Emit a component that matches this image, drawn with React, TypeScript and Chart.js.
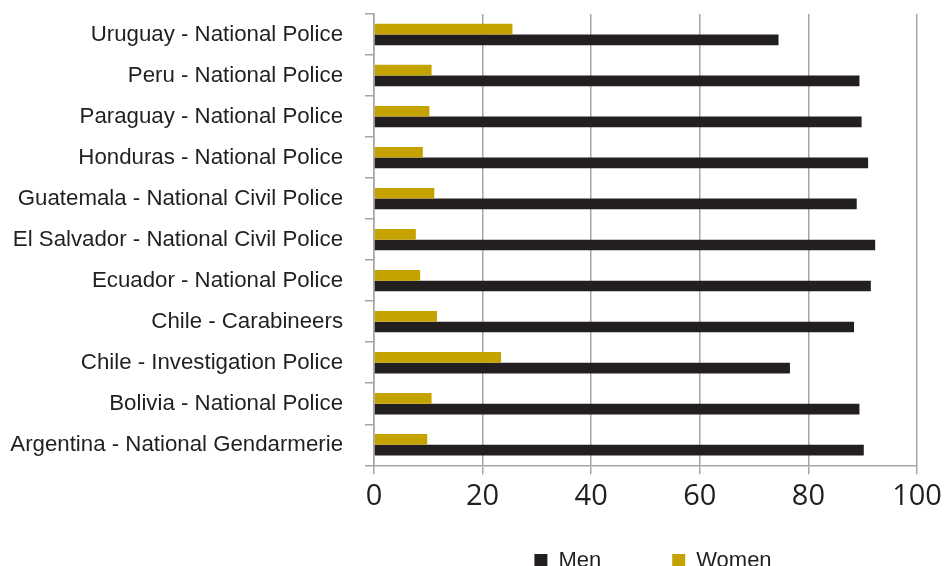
import React, { useEffect, useRef } from 'react';
import { Chart, registerables } from 'chart.js';

Chart.register(...registerables);

const categories = [
  'Uruguay - National Police',
  'Peru - National Police',
  'Paraguay - National Police',
  'Honduras - National Police',
  'Guatemala - National Civil Police',
  'El Salvador - National Civil Police',
  'Ecuador - National Police',
  'Chile - Carabineers',
  'Chile - Investigation Police',
  'Bolivia - National Police',
  'Argentina - National Gendarmerie',
];

const womenValues = [25.5, 10.6, 10.2, 9.0, 11.1, 7.7, 8.5, 11.6, 23.4, 10.6, 9.8];
const menValues = [74.5, 89.4, 89.8, 91.0, 88.9, 92.3, 91.5, 88.4, 76.6, 89.4, 90.2];

const xTickValues = [0, 20, 40, 60, 80, 100];

const MEN_COLOR = '#231f20';
const WOMEN_COLOR = '#c4a300';
const AXIS_COLOR = '#a6a6a6';
const TEXT_COLOR = '#231f20';

export default function App() {
  const canvasRef = useRef<HTMLCanvasElement | null>(null);

  useEffect(() => {
    if (!canvasRef.current) return;

    const legendPlacer = {
      id: 'legendPlacer',
      afterLayout(chart: any) {
        const lg = chart.legend;
        const ca = chart.chartArea;
        if (lg && ca) {
          lg.left = ca.left + 15;
          lg.right = ca.right;
          lg.top = ca.bottom + 13.2;
          lg.bottom = chart.height + 40;
        }
      },
    };

    const chart = new Chart(canvasRef.current, {
      type: 'bar',
      data: {
        labels: categories,
        datasets: [
          {
            label: 'Women',
            data: womenValues,
            backgroundColor: WOMEN_COLOR,
            borderWidth: 0,
            categoryPercentage: 0.52,
            barPercentage: 1,
          },
          {
            label: 'Men',
            data: menValues,
            backgroundColor: MEN_COLOR,
            borderWidth: 0,
            categoryPercentage: 0.52,
            barPercentage: 1,
          },
        ],
      },
      options: {
        indexAxis: 'y',
        animation: false,
        responsive: false,
        layout: { padding: { top: 14, right: 27, bottom: 0, left: 0 } },
        scales: {
          x: {
            min: 0,
            max: 100,
            afterBuildTicks: (s: any) => {
              s.ticks = xTickValues.map((v) => ({ value: v }));
            },
            afterFit: (s: any) => {
              s.height = 47;
              s.paddingLeft = 0;
              s.paddingRight = 0;
            },
            ticks: {
              font: { family: 'Open Sans', size: 29 },
              color: TEXT_COLOR,
              padding: 5,
              maxRotation: 0,
            },
            grid: {
              color: AXIS_COLOR,
              lineWidth: 1.5,
              tickLength: 9,
              drawTicks: true,
            },
            border: { color: AXIS_COLOR, width: 1.5 },
          },
          y: {
            afterFit: (s: any) => {
              s.width = 374;
              s.paddingTop = 0;
              s.paddingBottom = 0;
            },
            ticks: {
              font: { family: 'Liberation Sans', size: 22.25 },
              color: TEXT_COLOR,
              padding: 22,
              autoSkip: false,
            },
            grid: {
              drawOnChartArea: false,
              drawTicks: true,
              tickLength: 9,
              color: AXIS_COLOR,
              lineWidth: 1.5,
              offset: true,
            },
            border: { color: AXIS_COLOR, width: 1.5 },
          },
        },
        plugins: {
          legend: {
            position: 'bottom',
            maxHeight: 53.7,
            labels: {
              boxWidth: 13,
              boxHeight: 13,
              padding: 71,
              font: { family: 'Liberation Sans', size: 22 },
              color: TEXT_COLOR,
              sort: (a: any, b: any) => b.datasetIndex - a.datasetIndex,
            },
          },
          tooltip: { enabled: false },
        },
      },
      plugins: [legendPlacer],
    });

    return () => chart.destroy();
  }, []);

  return (
    <div style={{ position: 'absolute', left: 0, top: 0, width: 944, height: 566, background: '#ffffff' }}>
      <canvas ref={canvasRef} width={944} height={566} style={{ display: 'block' }} />
    </div>
  );
}
